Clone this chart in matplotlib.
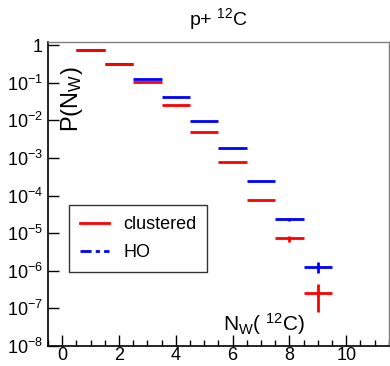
import numpy as np
from matplotlib import pyplot as plt
from matplotlib import ticker
from matplotlib.lines import Line2D

plt.rcParams['font.family'] = ['Liberation Sans', 'DejaVu Sans']
plt.rcParams['mathtext.fontset'] = 'custom'
plt.rcParams['mathtext.rm'] = 'Liberation Sans'
plt.rcParams['mathtext.it'] = 'Liberation Sans:italic'

nw = [1, 2, 3, 4, 5, 6, 7, 8, 9]
clustered = [0.75, 0.31, 0.105, 0.0257, 0.0049, 7.7e-4, 7.6e-5, 7.3e-6, 2.6e-7]
clustered_lo = [0.002, 0.001, 0.0004, 0.0001, 0.00002, 4e-6, 1e-6, 1.5e-6, 1.8e-7]
clustered_hi = [0.002, 0.001, 0.0004, 0.0001, 0.00002, 4e-6, 1e-6, 1.2e-6, 1.8e-7]
ho = [0.73, 0.31, 0.124, 0.041, 0.0098, 0.00181, 2.45e-4, 2.34e-5, 1.28e-6]
ho_lo = [0.002, 0.001, 0.0004, 0.0001, 0.00004, 8e-6, 2e-6, 2e-6, 3.8e-7]
ho_hi = [0.002, 0.001, 0.0004, 0.0001, 0.00004, 8e-6, 2e-6, 2.5e-6, 4.5e-7]

ytick_vals = [1e-8, 1e-7, 1e-6, 1e-5, 1e-4, 1e-3, 1e-2, 1e-1, 1]
ytick_labels = [r'$10^{-8}$', r'$10^{-7}$', r'$10^{-6}$', r'$10^{-5}$',
                r'$10^{-4}$', r'$10^{-3}$', r'$10^{-2}$', r'$10^{-1}$', '1']

fig = plt.figure(figsize=(3.9, 3.66), dpi=100)
ax = fig.add_axes([0.123, 0.0546, 0.874, 0.832])

ax.errorbar(nw, ho, xerr=0.5, yerr=[ho_lo, ho_hi], fmt='none',
            ecolor='blue', elinewidth=2, capsize=0)
ax.errorbar(nw, clustered, xerr=0.5, yerr=[clustered_lo, clustered_hi], fmt='none',
            ecolor='red', elinewidth=2, capsize=0)

ax.set_yscale('log')
ax.set_ylim(1e-8, 1.25)
ax.set_xlim(-0.5, 11.5)
ax.set_yticks(ytick_vals)
ax.set_yticklabels(ytick_labels)
ax.yaxis.set_minor_locator(ticker.LogLocator(base=10, subs=np.arange(2, 10)))
ax.yaxis.set_minor_formatter(ticker.NullFormatter())
ax.set_xticks(np.arange(0, 11, 2))
ax.xaxis.set_minor_locator(ticker.MultipleLocator(0.5))

ax.tick_params(axis='both', which='both', direction='in', labelsize=13)
ax.tick_params(axis='both', which='major', length=8, width=1)
ax.tick_params(axis='both', which='minor', length=4, width=1)
ax.tick_params(axis='x', pad=1)
ax.tick_params(top=False, right=False)

for side in ['top', 'right']:
    ax.spines[side].set_color('gray')
    ax.spines[side].set_linewidth(1)
for side in ['left', 'bottom']:
    ax.spines[side].set_linewidth(1.2)

ax.text(0.07, 0.92, r'P(N$_{\rm W}$)', transform=ax.transAxes, rotation=90,
        fontsize=17, ha='center', va='top')
ax.text(0.755, 0.03, r'N$_{\rm W}$( $^{12}$C)', transform=ax.transAxes,
        fontsize=15, ha='right', va='bottom')
ax.set_title(r'p+ $^{12}$C', fontsize=14, pad=12)

handles = [Line2D([], [], color='red', lw=2),
           Line2D([], [], color='blue', lw=2, ls=(0, (4, 1.5, 1.5, 1.5)))]
leg = ax.legend(handles, ['clustered', 'HO'], loc='upper left',
                bbox_to_anchor=(0.062, 0.462), borderaxespad=0, fontsize=13,
                frameon=True, fancybox=False, edgecolor='black', handlelength=1.6,
                borderpad=0.6, labelspacing=0.6)
leg.get_frame().set_linewidth(1)

fig.savefig('out.png', dpi=100)
